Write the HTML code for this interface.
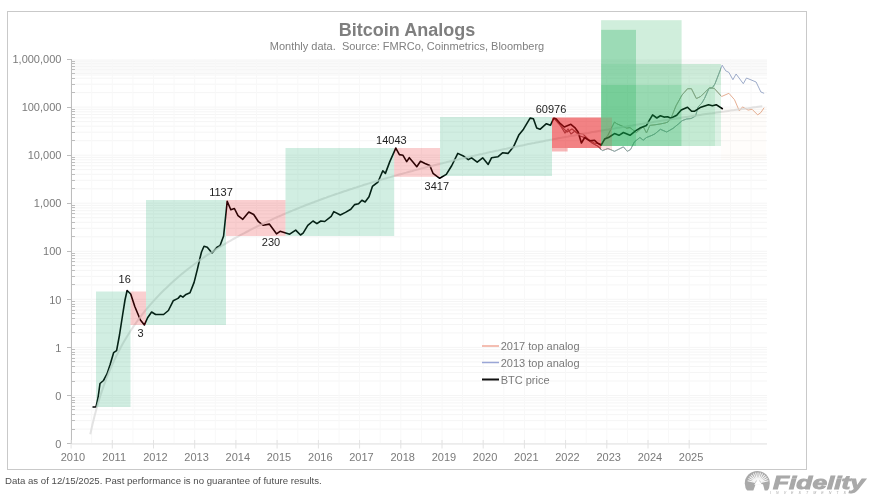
<!DOCTYPE html>
<html><head><meta charset="utf-8"><style>html,body{margin:0;padding:0;background:#fff;width:889px;height:499px;overflow:hidden}svg{display:block;will-change:transform}</style></head>
<body><svg width="889" height="499" viewBox="0 0 889 499"><rect x="7.5" y="11.5" width="799" height="458" fill="#fff" stroke="#c9c9c9" stroke-width="1"/>
<rect x="72" y="59" width="695" height="17" fill="#000" fill-opacity="0.018"/>
<path d="M72 443.5H767 M72 429.1H767 M72 420.6H767 M72 414.6H767 M72 409.9H767 M72 406.1H767 M72 402.9H767 M72 400.1H767 M72 397.7H767 M72 395.5H767 M72 381.0H767 M72 372.5H767 M72 366.5H767 M72 361.9H767 M72 358.1H767 M72 354.8H767 M72 352.1H767 M72 349.6H767 M72 347.4H767 M72 332.9H767 M72 324.5H767 M72 318.5H767 M72 313.8H767 M72 310.0H767 M72 306.8H767 M72 304.0H767 M72 301.5H767 M72 299.3H767 M72 284.9H767 M72 276.4H767 M72 270.4H767 M72 265.7H767 M72 261.9H767 M72 258.7H767 M72 255.9H767 M72 253.5H767 M72 251.3H767 M72 236.8H767 M72 228.3H767 M72 222.3H767 M72 217.7H767 M72 213.9H767 M72 210.7H767 M72 207.9H767 M72 205.4H767 M72 203.2H767 M72 188.8H767 M72 180.3H767 M72 174.3H767 M72 169.6H767 M72 165.8H767 M72 162.6H767 M72 159.8H767 M72 157.4H767 M72 155.2H767 M72 140.7H767 M72 132.2H767 M72 126.2H767 M72 121.6H767 M72 117.8H767 M72 114.5H767 M72 111.8H767 M72 109.3H767 M72 107.1H767 M72 92.6H767 M72 84.2H767 M72 78.2H767 M72 73.5H767 M72 69.7H767 M72 66.5H767 M72 63.7H767 M72 61.2H767" stroke="#f5f5f5" stroke-width="1" fill="none"/>
<path d="M71.1 59V444 M91.7 59V444 M112.3 59V444 M132.9 59V444 M153.5 59V444 M174.1 59V444 M194.7 59V444 M215.3 59V444 M235.9 59V444 M256.5 59V444 M277.1 59V444 M297.8 59V444 M318.4 59V444 M339.0 59V444 M359.6 59V444 M380.2 59V444 M400.8 59V444 M421.4 59V444 M442.0 59V444 M462.6 59V444 M483.2 59V444 M503.8 59V444 M524.4 59V444 M545.0 59V444 M565.6 59V444 M586.2 59V444 M606.8 59V444 M627.4 59V444 M648.0 59V444 M668.6 59V444 M689.2 59V444 M709.9 59V444 M730.5 59V444 M751.1 59V444" stroke="#f8f8f8" stroke-width="1" fill="none"/>
<defs><clipPath id="cg"><rect x="601" y="15" width="120" height="140"/></clipPath><clipPath id="cr"><rect x="550" y="110" width="51" height="45"/></clipPath></defs>
<polyline points="553.8,118.0 560.0,125.0 565.0,133.0 568.0,129.0 571.0,134.0 575.0,131.0 580.0,136.0 586.0,138.0 592.0,143.0 598.0,146.3 602.4,150.7 607.9,148.5 614.5,151.3 623.4,146.9 627.2,151.3 630.5,149.6 634.4,141.9 639.9,137.5 643.2,140.2 646.5,137.5 652.0,135.3 655.0,133.8 660.4,129.3 666.7,132.0 673.0,128.4 678.5,123.9 682.1,120.7 686.6,119.0 691.1,118.5 695.6,116.0 698.0,107.0 701.9,103.0 704.5,98.5 708.8,88.8 712.5,87.6 714.9,84.0 722.2,65.2 725.7,70.8 728.9,72.4 732.9,79.7 736.1,74.0 743.3,83.7 746.5,78.0 756.1,82.0 760.9,92.0 764.1,93.3" fill="none" stroke="#8c9cc0" stroke-width="1" opacity="0.85"/>
<polyline points="553.8,118.0 558.0,123.0 562.0,127.0 567.0,132.0 572.0,129.0 577.0,133.0 583.0,134.0 588.0,139.0 594.0,143.0 601.3,144.1 607.9,135.3 614.5,122.0 616.7,123.7 626.7,128.1 630.0,127.6 636.4,132.6 643.2,126.5 646.5,133.0 649.8,125.4 655.0,124.8 660.0,124.0 665.0,123.0 668.0,122.0 672.0,115.8 676.0,105.8 682.0,95.0 687.6,88.7 691.4,88.7 696.4,98.6 700.8,96.4 705.2,92.0 709.6,87.6 714.4,88.5 721.6,96.5 728.9,93.3 734.5,99.7 739.3,110.9 742.5,106.9 748.1,110.1 752.1,109.3 757.7,114.9 760.9,112.5 764.1,107.7" fill="none" stroke="#e0a080" stroke-width="1" opacity="0.85"/>
<g clip-path="url(#cg)"><polyline points="553.8,118.0 560.0,125.0 565.0,133.0 568.0,129.0 571.0,134.0 575.0,131.0 580.0,136.0 586.0,138.0 592.0,143.0 598.0,146.3 602.4,150.7 607.9,148.5 614.5,151.3 623.4,146.9 627.2,151.3 630.5,149.6 634.4,141.9 639.9,137.5 643.2,140.2 646.5,137.5 652.0,135.3 655.0,133.8 660.4,129.3 666.7,132.0 673.0,128.4 678.5,123.9 682.1,120.7 686.6,119.0 691.1,118.5 695.6,116.0 698.0,107.0 701.9,103.0 704.5,98.5 708.8,88.8 712.5,87.6 714.9,84.0 722.2,65.2 725.7,70.8 728.9,72.4 732.9,79.7 736.1,74.0 743.3,83.7 746.5,78.0 756.1,82.0 760.9,92.0 764.1,93.3" fill="none" stroke="#98aca0" stroke-width="1"/><polyline points="553.8,118.0 558.0,123.0 562.0,127.0 567.0,132.0 572.0,129.0 577.0,133.0 583.0,134.0 588.0,139.0 594.0,143.0 601.3,144.1 607.9,135.3 614.5,122.0 616.7,123.7 626.7,128.1 630.0,127.6 636.4,132.6 643.2,126.5 646.5,133.0 649.8,125.4 655.0,124.8 660.0,124.0 665.0,123.0 668.0,122.0 672.0,115.8 676.0,105.8 682.0,95.0 687.6,88.7 691.4,88.7 696.4,98.6 700.8,96.4 705.2,92.0 709.6,87.6 714.4,88.5 721.6,96.5 728.9,93.3 734.5,99.7 739.3,110.9 742.5,106.9 748.1,110.1 752.1,109.3 757.7,114.9 760.9,112.5 764.1,107.7" fill="none" stroke="#98aca0" stroke-width="1"/></g>
<g clip-path="url(#cr)"><polyline points="553.8,118.0 560.0,125.0 565.0,133.0 568.0,129.0 571.0,134.0 575.0,131.0 580.0,136.0 586.0,138.0 592.0,143.0 598.0,146.3 602.4,150.7 607.9,148.5 614.5,151.3 623.4,146.9 627.2,151.3 630.5,149.6 634.4,141.9 639.9,137.5 643.2,140.2 646.5,137.5 652.0,135.3 655.0,133.8 660.4,129.3 666.7,132.0 673.0,128.4 678.5,123.9 682.1,120.7 686.6,119.0 691.1,118.5 695.6,116.0 698.0,107.0 701.9,103.0 704.5,98.5 708.8,88.8 712.5,87.6 714.9,84.0 722.2,65.2 725.7,70.8 728.9,72.4 732.9,79.7 736.1,74.0 743.3,83.7 746.5,78.0 756.1,82.0 760.9,92.0 764.1,93.3" fill="none" stroke="#806060" stroke-width="1.1"/><polyline points="553.8,118.0 558.0,123.0 562.0,127.0 567.0,132.0 572.0,129.0 577.0,133.0 583.0,134.0 588.0,139.0 594.0,143.0 601.3,144.1 607.9,135.3 614.5,122.0 616.7,123.7 626.7,128.1 630.0,127.6 636.4,132.6 643.2,126.5 646.5,133.0 649.8,125.4 655.0,124.8 660.0,124.0 665.0,123.0 668.0,122.0 672.0,115.8 676.0,105.8 682.0,95.0 687.6,88.7 691.4,88.7 696.4,98.6 700.8,96.4 705.2,92.0 709.6,87.6 714.4,88.5 721.6,96.5 728.9,93.3 734.5,99.7 739.3,110.9 742.5,106.9 748.1,110.1 752.1,109.3 757.7,114.9 760.9,112.5 764.1,107.7" fill="none" stroke="#806060" stroke-width="1.1"/></g>
<polyline points="92.5,407.0 96.0,407.0 98.0,398.0 100.0,383.5 103.5,380.5 107.0,374.0 110.0,365.0 113.6,352.7 116.6,350.6 119.5,335.0 122.6,315.0 125.0,300.0 127.1,290.5 130.7,294.0 134.8,306.5 140.4,320.0 144.4,324.9 147.6,317.7 151.6,312.0 155.6,314.5 163.6,314.5 168.4,310.5 173.2,300.8 178.0,298.4 180.5,295.6 182.9,297.2 186.0,294.4 190.0,292.8 194.1,282.4 197.3,269.6 200.0,258.0 201.5,252.0 204.0,246.3 207.3,247.3 212.0,253.0 217.0,247.3 220.0,245.7 223.6,236.0 227.2,201.3 230.8,209.7 234.4,208.5 238.0,215.7 242.8,219.3 248.8,212.0 253.7,214.5 258.5,221.7 263.3,225.3 269.3,224.1 276.5,233.8 280.1,231.3 289.7,234.2 295.7,230.1 300.5,235.0 303.1,233.2 307.8,225.4 313.0,221.0 316.9,223.6 320.8,221.0 324.7,221.5 331.2,216.3 333.8,211.6 340.3,215.0 345.5,212.4 350.8,209.3 354.7,204.6 358.6,203.8 361.9,200.2 365.1,202.0 369.0,196.8 372.4,186.4 378.0,182.0 382.8,170.8 385.4,173.4 389.8,161.6 395.8,148.1 399.4,154.6 403.0,155.3 406.7,161.6 409.3,157.7 412.5,161.5 416.8,166.7 420.5,161.3 425.0,163.5 429.8,165.5 433.0,173.3 439.7,178.3 446.3,174.4 451.8,165.5 457.8,153.4 463.9,156.3 468.3,159.6 471.6,157.8 477.2,162.2 482.7,157.8 488.2,164.4 491.5,157.8 498.1,156.7 502.5,152.8 508.0,153.4 513.5,146.8 519.0,134.7 523.5,129.2 530.1,118.1 533.4,118.8 536.7,128.1 540.0,129.3 546.4,123.7 550.4,125.3 553.8,118.2 556.0,118.8 560.4,123.7 564.3,127.0 570.9,124.3 574.8,127.6 578.1,132.0 581.4,143.0 584.7,137.5 589.7,140.8 594.6,140.3 597.4,143.0 601.2,145.2 604.6,139.1 608.5,137.5 614.5,133.6 619.0,135.3 623.4,132.5 630.0,135.3 635.5,130.9 639.9,128.1 646.5,125.4 649.3,120.4 652.6,114.9 656.8,118.0 660.4,115.8 664.0,117.1 667.6,116.7 670.8,118.3 676.7,115.3 681.2,109.9 687.5,107.2 691.6,111.2 694.7,111.2 700.1,107.6 708.5,104.7 712.4,105.8 716.2,104.7 722.8,109.0" fill="none" stroke="#000" stroke-width="1.6" stroke-linejoin="round"/>
<polyline points="90.3,434.2 92.3,425.2 94.3,416.9 96.3,409.4 98.3,402.4 100.3,395.9 102.3,389.9 104.3,384.2 106.3,378.9 108.3,373.8 110.3,369.0 112.3,364.5 114.3,360.2 116.3,356.0 118.3,352.1 120.3,348.3 122.3,344.6 124.3,341.1 126.3,337.7 128.3,334.5 130.3,331.3 132.3,328.3 134.3,325.4 136.3,322.5 138.3,319.7 140.3,317.1 142.3,314.4 144.3,311.9 146.3,309.4 148.3,307.0 150.3,304.7 152.3,302.4 154.3,300.2 156.3,298.0 158.3,295.9 160.3,293.8 162.3,291.8 164.3,289.8 166.3,287.9 168.3,286.0 170.3,284.1 172.3,282.3 174.3,280.5 176.3,278.7 178.3,277.0 180.3,275.3 182.3,273.6 184.3,272.0 186.3,270.4 188.3,268.8 190.3,267.3 192.3,265.8 194.3,264.3 196.3,262.8 198.3,261.3 200.3,259.9 202.3,258.5 204.3,257.1 206.3,255.7 208.3,254.4 210.3,253.1 212.3,251.8 214.3,250.5 216.3,249.2 218.3,248.0 220.3,246.7 222.3,245.5 224.3,244.3 226.3,243.1 228.3,241.9 230.3,240.8 232.3,239.6 234.3,238.5 236.3,237.4 238.3,236.3 240.3,235.2 242.3,234.1 244.3,233.1 246.3,232.0 248.3,231.0 250.3,229.9 252.3,228.9 254.3,227.9 256.3,226.9 258.3,225.9 260.3,225.0 262.3,224.0 264.3,223.1 266.3,222.1 268.3,221.2 270.3,220.3 272.3,219.3 274.3,218.4 276.3,217.5 278.3,216.6 280.3,215.8 282.3,214.9 284.3,214.0 286.3,213.2 288.3,212.3 290.3,211.5 292.3,210.7 294.3,209.8 296.3,209.0 298.3,208.2 300.3,207.4 302.3,206.6 304.3,205.8 306.3,205.0 308.3,204.3 310.3,203.5 312.3,202.7 314.3,202.0 316.3,201.2 318.3,200.5 320.3,199.7 322.3,199.0 324.3,198.3 326.3,197.6 328.3,196.8 330.3,196.1 332.3,195.4 334.3,194.7 336.3,194.0 338.3,193.4 340.3,192.7 342.3,192.0 344.3,191.3 346.3,190.7 348.3,190.0 350.3,189.3 352.3,188.7 354.3,188.0 356.3,187.4 358.3,186.7 360.3,186.1 362.3,185.5 364.3,184.8 366.3,184.2 368.3,183.6 370.3,183.0 372.3,182.4 374.3,181.8 376.3,181.2 378.3,180.6 380.3,180.0 382.3,179.4 384.3,178.8 386.3,178.2 388.3,177.6 390.3,177.1 392.3,176.5 394.3,175.9 396.3,175.4 398.3,174.8 400.3,174.2 402.3,173.7 404.3,173.1 406.3,172.6 408.3,172.0 410.3,171.5 412.3,171.0 414.3,170.4 416.3,169.9 418.3,169.4 420.3,168.8 422.3,168.3 424.3,167.8 426.3,167.3 428.3,166.8 430.3,166.2 432.3,165.7 434.3,165.2 436.3,164.7 438.3,164.2 440.3,163.7 442.3,163.2 444.3,162.7 446.3,162.3 448.3,161.8 450.3,161.3 452.3,160.8 454.3,160.3 456.3,159.8 458.3,159.4 460.3,158.9 462.3,158.4 464.3,158.0 466.3,157.5 468.3,157.0 470.3,156.6 472.3,156.1 474.3,155.7 476.3,155.2 478.3,154.8 480.3,154.3 482.3,153.9 484.3,153.4 486.3,153.0 488.3,152.5 490.3,152.1 492.3,151.7 494.3,151.2 496.3,150.8 498.3,150.4 500.3,149.9 502.3,149.5 504.3,149.1 506.3,148.7 508.3,148.2 510.3,147.8 512.3,147.4 514.3,147.0 516.3,146.6 518.3,146.2 520.3,145.8 522.3,145.4 524.3,145.0 526.3,144.5 528.3,144.1 530.3,143.7 532.3,143.3 534.3,143.0 536.3,142.6 538.3,142.2 540.3,141.8 542.3,141.4 544.3,141.0 546.3,140.6 548.3,140.2 550.3,139.8 552.3,139.5 554.3,139.1 556.3,138.7 558.3,138.3 560.3,137.9 562.3,137.6 564.3,137.2 566.3,136.8 568.3,136.5 570.3,136.1 572.3,135.7 574.3,135.4 576.3,135.0 578.3,134.6 580.3,134.3 582.3,133.9 584.3,133.6 586.3,133.2 588.3,132.9 590.3,132.5 592.3,132.1 594.3,131.8 596.3,131.4 598.3,131.1 600.3,130.7 602.3,130.4 604.3,130.1 606.3,129.7 608.3,129.4 610.3,129.0 612.3,128.7 614.3,128.4 616.3,128.0 618.3,127.7 620.3,127.4 622.3,127.0 624.3,126.7 626.3,126.4 628.3,126.0 630.3,125.7 632.3,125.4 634.3,125.0 636.3,124.7 638.3,124.4 640.3,124.1 642.3,123.8 644.3,123.4 646.3,123.1 648.3,122.8 650.3,122.5 652.3,122.2 654.3,121.8 656.3,121.5 658.3,121.2 660.3,120.9 662.3,120.6 664.3,120.3 666.3,120.0 668.3,119.7 670.3,119.4 672.3,119.1 674.3,118.8 676.3,118.5 678.3,118.2 680.3,117.9 682.3,117.6 684.3,117.3 686.3,117.0 688.3,116.7 690.3,116.4 692.3,116.1 694.3,115.8 696.3,115.5 698.3,115.2 700.3,114.9 702.3,114.6 704.3,114.3 706.3,114.0 708.3,113.7 710.3,113.4 712.3,113.2 714.3,112.9 716.3,112.6 718.3,112.3 720.3,112.0 722.3,111.7 724.3,111.5 726.3,111.2 728.3,110.9 730.3,110.6 732.3,110.3 734.3,110.1 736.3,109.8 738.3,109.5 740.3,109.2 742.3,109.0 744.3,108.7 746.3,108.4 748.3,108.2 750.3,107.9 752.3,107.6 754.3,107.3 756.3,107.1 758.3,106.8 760.3,106.5 762.3,106.3" fill="none" stroke="#d9d9d9" stroke-width="2" opacity="0.75"/>
<rect x="96" y="291.5" width="34.5" height="115.5" fill="rgb(25,168,110)" fill-opacity="0.2"/>
<rect x="130.5" y="291.5" width="15.5" height="33.5" fill="rgb(230,15,20)" fill-opacity="0.2"/>
<rect x="146" y="200" width="80.0" height="125.0" fill="rgb(25,168,110)" fill-opacity="0.2"/>
<rect x="226" y="200" width="59.5" height="36.0" fill="rgb(230,15,20)" fill-opacity="0.2"/>
<rect x="285.5" y="148" width="108.7" height="88.0" fill="rgb(25,168,110)" fill-opacity="0.2"/>
<rect x="394.2" y="148" width="45.8" height="28.8" fill="rgb(230,15,20)" fill-opacity="0.2"/>
<rect x="440" y="117" width="112.0" height="59.0" fill="rgb(25,168,110)" fill-opacity="0.2"/>
<rect x="552" y="117.5" width="49.2" height="30.5" fill="rgb(230,15,20)" fill-opacity="0.52"/>
<rect x="552" y="148" width="15.6" height="3.5" fill="rgb(230,15,20)" fill-opacity="0.3"/>
<rect x="601.1" y="20.2" width="80.5" height="9.6" fill="rgb(20,170,80)" fill-opacity="0.2"/>
<rect x="601.1" y="29.8" width="34.9" height="34.2" fill="rgb(20,170,80)" fill-opacity="0.42"/>
<rect x="636" y="29.8" width="45.6" height="34.2" fill="rgb(20,170,80)" fill-opacity="0.2"/>
<rect x="601.1" y="64" width="34.9" height="21.0" fill="rgb(20,170,80)" fill-opacity="0.47"/>
<rect x="636" y="64" width="45.6" height="21.0" fill="rgb(20,170,80)" fill-opacity="0.33"/>
<rect x="681.6" y="64" width="39.4" height="21.0" fill="rgb(20,170,80)" fill-opacity="0.2"/>
<rect x="601.1" y="85" width="34.9" height="61.0" fill="rgb(20,170,80)" fill-opacity="0.58"/>
<rect x="636" y="85" width="45.6" height="61.0" fill="rgb(20,170,80)" fill-opacity="0.44"/>
<rect x="681.6" y="85" width="33.4" height="61.0" fill="rgb(20,170,80)" fill-opacity="0.25"/>
<rect x="715" y="85" width="6.0" height="61.0" fill="rgb(20,170,80)" fill-opacity="0.15"/>
<rect x="601.2" y="117.5" width="10.8" height="32.5" fill="rgb(230,15,20)" fill-opacity="0.12"/>
<rect x="721" y="108" width="45.0" height="52.0" fill="rgb(240,140,60)" fill-opacity="0.02"/>
<path d="M71.5 59V444 M67 59.3H72 M67 107.4H72 M67 155.4H72 M67 203.5H72 M67 251.5H72 M67 299.6H72 M67 347.7H72 M67 395.7H72 M67 443.8H72 M72 429.1H75 M72 420.6H75 M72 414.6H75 M72 409.9H75 M72 406.1H75 M72 402.9H75 M72 400.1H75 M72 397.7H75 M72 381.0H75 M72 372.5H75 M72 366.5H75 M72 361.9H75 M72 358.1H75 M72 354.8H75 M72 352.1H75 M72 349.6H75 M72 332.9H75 M72 324.5H75 M72 318.5H75 M72 313.8H75 M72 310.0H75 M72 306.8H75 M72 304.0H75 M72 301.5H75 M72 284.9H75 M72 276.4H75 M72 270.4H75 M72 265.7H75 M72 261.9H75 M72 258.7H75 M72 255.9H75 M72 253.5H75 M72 236.8H75 M72 228.3H75 M72 222.3H75 M72 217.7H75 M72 213.9H75 M72 210.7H75 M72 207.9H75 M72 205.4H75 M72 188.8H75 M72 180.3H75 M72 174.3H75 M72 169.6H75 M72 165.8H75 M72 162.6H75 M72 159.8H75 M72 157.4H75 M72 140.7H75 M72 132.2H75 M72 126.2H75 M72 121.6H75 M72 117.8H75 M72 114.5H75 M72 111.8H75 M72 109.3H75 M72 92.6H75 M72 84.2H75 M72 78.2H75 M72 73.5H75 M72 69.7H75 M72 66.5H75 M72 63.7H75 M72 61.2H75" stroke="#bdbdbd" stroke-width="1" fill="none" shape-rendering="crispEdges"/>
<path d="M72 444H767 M71.1 440V448.5 M112.3 440V448.5 M153.5 440V448.5 M194.7 440V448.5 M235.9 440V448.5 M277.1 440V448.5 M318.4 440V448.5 M359.6 440V448.5 M400.8 440V448.5 M442.0 440V448.5 M483.2 440V448.5 M524.4 440V448.5 M565.6 440V448.5 M606.8 440V448.5 M648.0 440V448.5 M689.2 440V448.5" stroke="#e2e2e2" stroke-width="1" fill="none"/>
<text x="61.4" y="63.2" text-anchor="end" font-size="11" fill="#7a7a7a" font-family="Liberation Sans, sans-serif">1,000,000</text>
<text x="61.4" y="111.3" text-anchor="end" font-size="11" fill="#7a7a7a" font-family="Liberation Sans, sans-serif">100,000</text>
<text x="61.4" y="159.3" text-anchor="end" font-size="11" fill="#7a7a7a" font-family="Liberation Sans, sans-serif">10,000</text>
<text x="61.4" y="207.4" text-anchor="end" font-size="11" fill="#7a7a7a" font-family="Liberation Sans, sans-serif">1,000</text>
<text x="61.4" y="255.4" text-anchor="end" font-size="11" fill="#7a7a7a" font-family="Liberation Sans, sans-serif">100</text>
<text x="61.4" y="303.5" text-anchor="end" font-size="11" fill="#7a7a7a" font-family="Liberation Sans, sans-serif">10</text>
<text x="61.4" y="351.6" text-anchor="end" font-size="11" fill="#7a7a7a" font-family="Liberation Sans, sans-serif">1</text>
<text x="61.4" y="399.6" text-anchor="end" font-size="11" fill="#7a7a7a" font-family="Liberation Sans, sans-serif">0</text>
<text x="61.4" y="447.7" text-anchor="end" font-size="11" fill="#7a7a7a" font-family="Liberation Sans, sans-serif">0</text>
<text x="73.0" y="461" text-anchor="middle" font-size="11" fill="#7a7a7a" font-family="Liberation Sans, sans-serif">2010</text>
<text x="114.2" y="461" text-anchor="middle" font-size="11" fill="#7a7a7a" font-family="Liberation Sans, sans-serif">2011</text>
<text x="155.4" y="461" text-anchor="middle" font-size="11" fill="#7a7a7a" font-family="Liberation Sans, sans-serif">2012</text>
<text x="196.6" y="461" text-anchor="middle" font-size="11" fill="#7a7a7a" font-family="Liberation Sans, sans-serif">2013</text>
<text x="237.8" y="461" text-anchor="middle" font-size="11" fill="#7a7a7a" font-family="Liberation Sans, sans-serif">2014</text>
<text x="279.0" y="461" text-anchor="middle" font-size="11" fill="#7a7a7a" font-family="Liberation Sans, sans-serif">2015</text>
<text x="320.3" y="461" text-anchor="middle" font-size="11" fill="#7a7a7a" font-family="Liberation Sans, sans-serif">2016</text>
<text x="361.5" y="461" text-anchor="middle" font-size="11" fill="#7a7a7a" font-family="Liberation Sans, sans-serif">2017</text>
<text x="402.7" y="461" text-anchor="middle" font-size="11" fill="#7a7a7a" font-family="Liberation Sans, sans-serif">2018</text>
<text x="443.9" y="461" text-anchor="middle" font-size="11" fill="#7a7a7a" font-family="Liberation Sans, sans-serif">2019</text>
<text x="485.1" y="461" text-anchor="middle" font-size="11" fill="#7a7a7a" font-family="Liberation Sans, sans-serif">2020</text>
<text x="526.3" y="461" text-anchor="middle" font-size="11" fill="#7a7a7a" font-family="Liberation Sans, sans-serif">2021</text>
<text x="567.5" y="461" text-anchor="middle" font-size="11" fill="#7a7a7a" font-family="Liberation Sans, sans-serif">2022</text>
<text x="608.7" y="461" text-anchor="middle" font-size="11" fill="#7a7a7a" font-family="Liberation Sans, sans-serif">2023</text>
<text x="649.9" y="461" text-anchor="middle" font-size="11" fill="#7a7a7a" font-family="Liberation Sans, sans-serif">2024</text>
<text x="691.1" y="461" text-anchor="middle" font-size="11" fill="#7a7a7a" font-family="Liberation Sans, sans-serif">2025</text>
<text x="124.7" y="283" text-anchor="middle" font-size="11" fill="#222" font-family="Liberation Sans, sans-serif">16</text>
<text x="140.6" y="337" text-anchor="middle" font-size="11" fill="#222" font-family="Liberation Sans, sans-serif">3</text>
<text x="221" y="196" text-anchor="middle" font-size="11" fill="#222" font-family="Liberation Sans, sans-serif">1137</text>
<text x="271" y="246" text-anchor="middle" font-size="11" fill="#222" font-family="Liberation Sans, sans-serif">230</text>
<text x="391.4" y="143.5" text-anchor="middle" font-size="11" fill="#222" font-family="Liberation Sans, sans-serif">14043</text>
<text x="436.8" y="189.5" text-anchor="middle" font-size="11" fill="#222" font-family="Liberation Sans, sans-serif">3417</text>
<text x="551" y="112.7" text-anchor="middle" font-size="11" fill="#222" font-family="Liberation Sans, sans-serif">60976</text>
<text x="407" y="35.5" text-anchor="middle" font-size="18" font-weight="bold" fill="#7f7f7f" font-family="Liberation Sans, sans-serif">Bitcoin Analogs</text>
<text x="407" y="49.5" text-anchor="middle" font-size="11" fill="#808080" font-family="Liberation Sans, sans-serif" xml:space="preserve">Monthly data.  Source: FMRCo, Coinmetrics, Bloomberg</text>
<path d="M482 346H499" stroke="#f0a898" stroke-width="1.5"/>
<path d="M482 362.5H499" stroke="#9aa6d6" stroke-width="1.5"/>
<path d="M482 379.5H499" stroke="#111" stroke-width="2"/>
<text x="500.7" y="350" font-size="11" fill="#7a7a7a" font-family="Liberation Sans, sans-serif">2017 top analog</text>
<text x="500.7" y="366.5" font-size="11" fill="#7a7a7a" font-family="Liberation Sans, sans-serif">2013 top analog</text>
<text x="500.7" y="383.5" font-size="11" fill="#7a7a7a" font-family="Liberation Sans, sans-serif">BTC price</text>
<text x="5" y="484" font-size="9.65" fill="#4d4d4d" font-family="Liberation Sans, sans-serif">Data as of 12/15/2025. Past performance is no guarantee of future results.</text>
<defs><clipPath id="lc"><rect x="740" y="465" width="40" height="25.5"/></clipPath></defs>
<circle cx="757.3" cy="483.4" r="12.5" fill="#a9a9a9" clip-path="url(#lc)"/>
<path d="M755.3 482.4L747.6 480.8 M755.5 481.8L748.4 478.5 M755.8 481.3L749.6 476.5 M756.2 480.8L751.3 474.8 M756.8 480.5L753.4 473.5 M757.4 480.3L755.6 472.7 M758.0 480.2L758.0 472.4 M758.6 480.3L760.4 472.7 M759.2 480.5L762.6 473.5 M759.8 480.8L764.7 474.8 M760.2 481.3L766.4 476.5 M760.5 481.8L767.6 478.5 M760.7 482.4L768.4 480.8" stroke="#fff" stroke-width="1.1" opacity="0.9"/>
<path d="M758 479 L754.2 484.8 L762.2 484.8 Z" fill="#fff"/>
<path d="M755.6 484.3 L763 484.3 L764.8 491 L753.2 491 Z" fill="#fff"/>
<text x="773" y="488.5" font-size="18" font-weight="bold" font-style="italic" fill="#a9a9a9" stroke="#a9a9a9" stroke-width="0.9" font-family="Liberation Sans, sans-serif" textLength="92" lengthAdjust="spacingAndGlyphs">Fidelity</text>
<text x="770" y="493.8" font-size="3.6" font-style="italic" fill="#a9a9a9" font-family="Liberation Sans, sans-serif" textLength="76" lengthAdjust="spacing">INVESTMENTS</text></svg></body></html>
